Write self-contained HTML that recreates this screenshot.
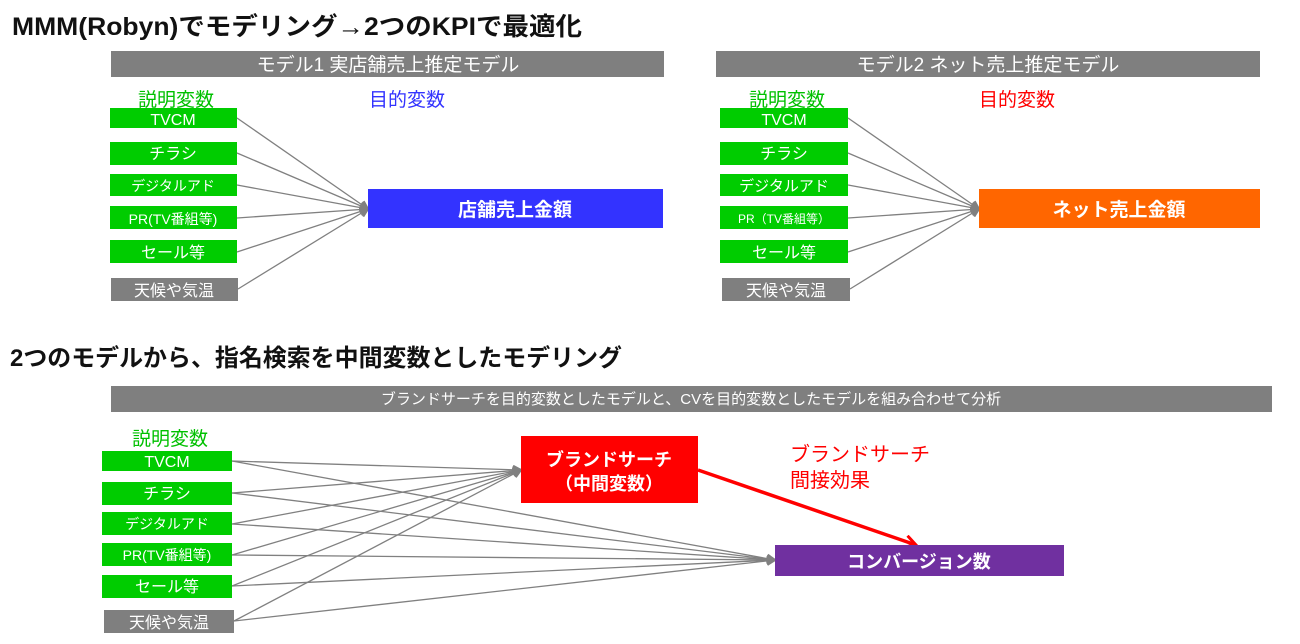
<!DOCTYPE html>
<html><head><meta charset="utf-8"><style>
html,body{margin:0;padding:0;background:#fff;}
svg{display:block;}
text{font-family:"Liberation Sans","Noto Sans CJK JP",sans-serif;}
</style></head><body>
<svg width="1300" height="644" viewBox="0 0 1300 644" xmlns="http://www.w3.org/2000/svg">
<defs>
<marker id="ga" markerWidth="10" markerHeight="10" refX="9" refY="5" orient="auto" markerUnits="userSpaceOnUse"><path d="M1,1 L9,5 L1,9" fill="none" stroke="#808080" stroke-width="2"/></marker>
<marker id="ra" markerWidth="14" markerHeight="14" refX="12" refY="7" orient="auto" markerUnits="userSpaceOnUse"><path d="M1,1 L12,7 L1,13" fill="none" stroke="#f00" stroke-width="3"/></marker>
</defs>
<text x="12" y="35" font-size="25" font-weight="bold" fill="#111" textLength="570" lengthAdjust="spacingAndGlyphs">MMM(Robyn)でモデリング→2つのKPIで最適化</text>

<!-- Panel 1 -->
<rect x="111" y="51" width="553" height="26" fill="#7f7f7f"/>
<text x="388" y="71" font-size="19" fill="#fff" text-anchor="middle">モデル1 実店舗売上推定モデル</text>
<text x="176" y="106" font-size="19" fill="#00c000" text-anchor="middle">説明変数</text>
<text x="407" y="106" font-size="19" fill="#3333ff" text-anchor="middle">目的変数</text>
<g fill="#00cc00">
<rect x="110" y="108" width="127" height="20"/><rect x="110" y="142" width="127" height="23"/>
<rect x="110" y="174" width="127" height="22"/><rect x="110" y="206" width="127" height="23"/>
<rect x="110" y="240" width="127" height="23"/></g>
<rect x="111" y="278" width="127" height="23" fill="#7f7f7f"/>
<g fill="#fff" font-size="16" text-anchor="middle">
<text x="173" y="125">TVCM</text><text x="173" y="159">チラシ</text>
<text x="173" y="191" font-size="14">デジタルアド</text><text x="173" y="224" font-size="14">PR(TV番組等)</text>
<text x="173" y="258">セール等</text><text x="174" y="296">天候や気温</text></g>
<g stroke="#808080" stroke-width="1.3" marker-end="url(#ga)">
<line x1="237" y1="118" x2="368" y2="209"/><line x1="237" y1="153" x2="368" y2="209"/>
<line x1="237" y1="185" x2="368" y2="209"/><line x1="237" y1="218" x2="368" y2="209"/>
<line x1="237" y1="252" x2="368" y2="209"/><line x1="238" y1="289" x2="368" y2="209"/></g>
<rect x="368" y="189" width="295" height="39" fill="#3333ff"/>
<text x="515" y="216" font-size="19" font-weight="bold" fill="#fff" text-anchor="middle">店舗売上金額</text>

<!-- Panel 2 -->
<rect x="716" y="51" width="544" height="26" fill="#7f7f7f"/>
<text x="988" y="71" font-size="19" fill="#fff" text-anchor="middle">モデル2 ネット売上推定モデル</text>
<text x="787" y="106" font-size="19" fill="#00c000" text-anchor="middle">説明変数</text>
<text x="1017" y="106" font-size="19" fill="#ff0000" text-anchor="middle">目的変数</text>
<g fill="#00cc00">
<rect x="720" y="108" width="128" height="20"/><rect x="720" y="142" width="128" height="23"/>
<rect x="720" y="174" width="128" height="22"/><rect x="720" y="206" width="128" height="23"/>
<rect x="720" y="240" width="128" height="23"/></g>
<rect x="722" y="278" width="128" height="23" fill="#7f7f7f"/>
<g fill="#fff" font-size="16" text-anchor="middle">
<text x="784" y="125">TVCM</text><text x="784" y="159">チラシ</text>
<text x="784" y="191" font-size="15">デジタルアド</text><text x="784" y="223" font-size="12">PR（TV番組等）</text>
<text x="784" y="258">セール等</text><text x="786" y="296">天候や気温</text></g>
<g stroke="#808080" stroke-width="1.3" marker-end="url(#ga)">
<line x1="848" y1="118" x2="979" y2="209"/><line x1="848" y1="153" x2="979" y2="209"/>
<line x1="848" y1="185" x2="979" y2="209"/><line x1="848" y1="218" x2="979" y2="209"/>
<line x1="848" y1="252" x2="979" y2="209"/><line x1="850" y1="289" x2="979" y2="209"/></g>
<rect x="979" y="189" width="281" height="39" fill="#ff6600"/>
<text x="1119" y="216" font-size="19" font-weight="bold" fill="#fff" text-anchor="middle">ネット売上金額</text>

<!-- Bottom -->
<text x="10" y="366" font-size="24" font-weight="bold" fill="#111" textLength="612" lengthAdjust="spacingAndGlyphs">2つのモデルから、指名検索を中間変数としたモデリング</text>
<rect x="111" y="386" width="1161" height="26" fill="#7f7f7f"/>
<text x="691" y="404" font-size="15" fill="#fff" text-anchor="middle">ブランドサーチを目的変数としたモデルと、CVを目的変数としたモデルを組み合わせて分析</text>
<text x="170" y="445" font-size="19" fill="#00c000" text-anchor="middle">説明変数</text>
<g fill="#00cc00">
<rect x="102" y="451" width="130" height="20"/><rect x="102" y="482" width="130" height="23"/>
<rect x="102" y="512" width="130" height="23"/><rect x="102" y="543" width="130" height="23"/>
<rect x="102" y="575" width="130" height="23"/></g>
<rect x="104" y="610" width="130" height="23" fill="#7f7f7f"/>
<g fill="#fff" font-size="16" text-anchor="middle">
<text x="167" y="467">TVCM</text><text x="167" y="499">チラシ</text>
<text x="167" y="529" font-size="14">デジタルアド</text><text x="167" y="560" font-size="14">PR(TV番組等)</text>
<text x="167" y="592">セール等</text><text x="169" y="628">天候や気温</text></g>
<g stroke="#808080" stroke-width="1.3" marker-end="url(#ga)">
<line x1="232" y1="461" x2="521" y2="470"/><line x1="232" y1="493" x2="521" y2="470"/>
<line x1="232" y1="524" x2="521" y2="470"/><line x1="232" y1="555" x2="521" y2="470"/>
<line x1="232" y1="586" x2="521" y2="470"/><line x1="234" y1="621" x2="521" y2="470"/>
<line x1="232" y1="461" x2="775" y2="560"/><line x1="232" y1="493" x2="775" y2="560"/>
<line x1="232" y1="524" x2="775" y2="560"/><line x1="232" y1="555" x2="775" y2="560"/>
<line x1="232" y1="586" x2="775" y2="560"/><line x1="234" y1="621" x2="775" y2="560"/></g>
<rect x="521" y="436" width="177" height="67" fill="#ff0000"/>
<text x="609" y="466" font-size="18" font-weight="bold" fill="#fff" text-anchor="middle">ブランドサーチ</text>
<text x="609" y="490" font-size="18" font-weight="bold" fill="#fff" text-anchor="middle">（中間変数）</text>
<line x1="698" y1="470" x2="916" y2="545" stroke="#ff0000" stroke-width="3.5" marker-end="url(#ra)"/>
<text x="790" y="461" font-size="20" fill="#ff0000">ブランドサーチ</text>
<text x="790" y="487" font-size="20" fill="#ff0000">間接効果</text>
<rect x="775" y="545" width="289" height="31" fill="#7030a0"/>
<text x="919" y="568" font-size="18" font-weight="bold" fill="#fff" text-anchor="middle">コンバージョン数</text>
</svg>
</body></html>
